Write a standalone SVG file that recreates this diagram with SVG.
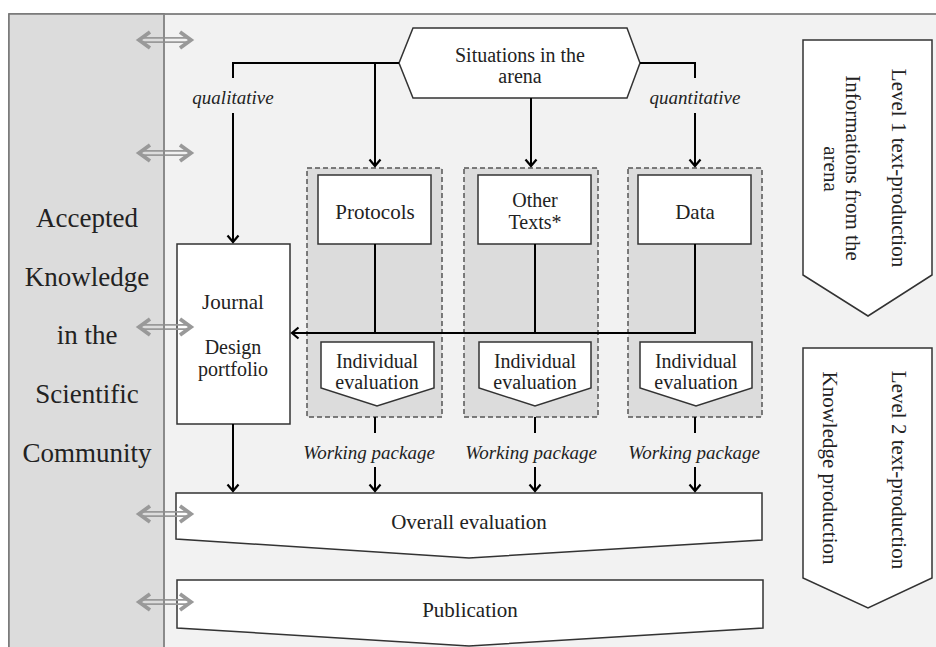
<svg xmlns="http://www.w3.org/2000/svg" width="936" height="647" viewBox="0 0 936 647">
<defs>
<style>
.t{font-family:"Liberation Serif","Times New Roman",serif;font-size:21px;fill:#222;text-anchor:middle}
.s{font-size:20px}
.big{font-size:27px}
.it{font-style:italic;font-size:19px}
.box{fill:#fff;stroke:#333;stroke-width:1.5}
.dash{fill:#dcdcdc;stroke:#555;stroke-width:1.5;stroke-dasharray:5 3}
.ln{fill:none;stroke:#000;stroke-width:2}
.dbl line{stroke:#999;stroke-width:1.8}
.dbl polyline{fill:none;stroke:#999;stroke-width:3.8;stroke-linejoin:miter}
</style>
<marker id="ah" viewBox="-9 -7 11 14" refX="0" refY="0" markerWidth="11" markerHeight="14" markerUnits="userSpaceOnUse" orient="auto" overflow="visible">
<path d="M-6.5,-5.5 L0,0 L-6.5,5.5" fill="none" stroke="#000" stroke-width="2.2"/>
</marker>
<g id="dbl" class="dbl">
<line x1="140" y1="-2.2" x2="190" y2="-2.2"/>
<line x1="140" y1="2.2" x2="190" y2="2.2"/>
<polyline points="150,-8 139,0 150,8"/>
<polyline points="180,-8 191,0 180,8"/>
</g>
</defs>

<g id="background">
<rect x="9" y="14" width="940" height="650" fill="#f2f2f2" stroke="#666" stroke-width="1.5"/>
<rect x="9" y="14" width="155" height="650" fill="#dcdcdc" stroke="#777" stroke-width="1.5"/>
</g>

<g id="community">
<text class="t big" x="87" y="227">Accepted</text>
<text class="t big" x="87" y="286">Knowledge</text>
<text class="t big" x="87" y="344">in the</text>
<text class="t big" x="87" y="403">Scientific</text>
<text class="t big" x="87" y="462">Community</text>
</g>

<g id="packages">
<rect class="dash" x="307" y="168" width="135" height="249"/>
<rect class="dash" x="464" y="168" width="134" height="249"/>
<rect class="dash" x="628" y="168" width="134" height="249"/>
</g>

<g id="situations">
<polygon class="box" points="399,63 413,28 627,28 640,63 627,98 413,98"/>
<text class="t s" x="520" y="62">Situations in the</text>
<text class="t s" x="520" y="83">arena</text>
</g>

<g id="protocols">
<rect class="box" x="318" y="175" width="113" height="69"/>
<text class="t" x="375" y="219">Protocols</text>
</g>
<g id="other-texts">
<rect class="box" x="478" y="175" width="113" height="69"/>
<text class="t s" x="535" y="207">Other</text>
<text class="t s" x="535" y="229">Texts*</text>
</g>
<g id="data">
<rect class="box" x="638" y="175" width="113" height="69"/>
<text class="t" x="695" y="219">Data</text>
</g>

<g id="journal">
<rect class="box" x="177" y="244" width="113" height="180"/>
<text class="t" x="233" y="309">Journal</text>
<text class="t s" x="233" y="354">Design</text>
<text class="t s" x="233" y="376">portfolio</text>
</g>

<g id="eval-protocols">
<polygon class="box" points="321,342 434,342 434,388 377,406 321,388"/>
<text class="t s" x="377" y="368">Individual</text>
<text class="t s" x="377" y="389">evaluation</text>
</g>
<g id="eval-other">
<polygon class="box" points="479,342 591,342 591,388 535,406 479,388"/>
<text class="t s" x="535" y="368">Individual</text>
<text class="t s" x="535" y="389">evaluation</text>
</g>
<g id="eval-data">
<polygon class="box" points="640,342 752,342 752,388 696,406 640,388"/>
<text class="t s" x="696" y="368">Individual</text>
<text class="t s" x="696" y="389">evaluation</text>
</g>

<g id="overall">
<polygon class="box" points="176,493 762,493 762,540 469,558 176,539"/>
<text class="t" x="469" y="529">Overall evaluation</text>
</g>
<g id="publication">
<polygon class="box" points="177,580 763,580 763,628 469,646 177,628"/>
<text class="t" x="470" y="617">Publication</text>
</g>

<g id="level1">
<polygon class="box" points="803,40 932,40 932,275 868,316 803,275"/>
<text class="t" transform="translate(892,168) rotate(90)">Level 1 text-production</text>
<text class="t" transform="translate(846,168) rotate(90)">Informations from the</text>
<text class="t" transform="translate(824,169) rotate(90)">arena</text>
</g>
<g id="level2">
<polygon class="box" points="803,348 932,348 932,578 868,608 803,578"/>
<text class="t" transform="translate(892,470) rotate(90)">Level 2 text-production</text>
<text class="t" transform="translate(823,468) rotate(90)">Knowledge production</text>
</g>

<g id="connectors">
<polyline class="ln" points="399,63 233,63 233,78"/>
<line class="ln" x1="233" y1="113" x2="233" y2="242" marker-end="url(#ah)"/>
<line class="ln" x1="375" y1="63" x2="375" y2="166" marker-end="url(#ah)"/>
<line class="ln" x1="531" y1="98" x2="531" y2="166" marker-end="url(#ah)"/>
<polyline class="ln" points="640,63 695,63 695,78"/>
<line class="ln" x1="695" y1="113" x2="695" y2="166" marker-end="url(#ah)"/>
<line class="ln" x1="375" y1="244" x2="375" y2="333"/>
<line class="ln" x1="535" y1="244" x2="535" y2="333"/>
<polyline class="ln" points="695,244 695,333 292,333" marker-end="url(#ah)"/>
<line class="ln" x1="233" y1="424" x2="233" y2="491" marker-end="url(#ah)"/>
<line class="ln" x1="375" y1="417" x2="375" y2="433"/>
<line class="ln" x1="535" y1="417" x2="535" y2="433"/>
<line class="ln" x1="695" y1="417" x2="695" y2="433"/>
<line class="ln" x1="375" y1="467" x2="375" y2="491" marker-end="url(#ah)"/>
<line class="ln" x1="535" y1="467" x2="535" y2="491" marker-end="url(#ah)"/>
<line class="ln" x1="695" y1="467" x2="695" y2="491" marker-end="url(#ah)"/>
</g>

<g id="labels">
<text class="t it" x="233" y="104">qualitative</text>
<text class="t it" x="695" y="104">quantitative</text>
<text class="t it" x="369" y="459">Working package</text>
<text class="t it" x="531" y="459">Working package</text>
<text class="t it" x="694" y="459">Working package</text>
</g>

<g id="exchange-arrows">
<use href="#dbl" y="40"/>
<use href="#dbl" y="153"/>
<use href="#dbl" y="327"/>
<use href="#dbl" y="514"/>
<use href="#dbl" y="602"/>
<line x1="164" y1="14" x2="164" y2="647" stroke="#888" stroke-width="1.5"/>
</g>
</svg>
